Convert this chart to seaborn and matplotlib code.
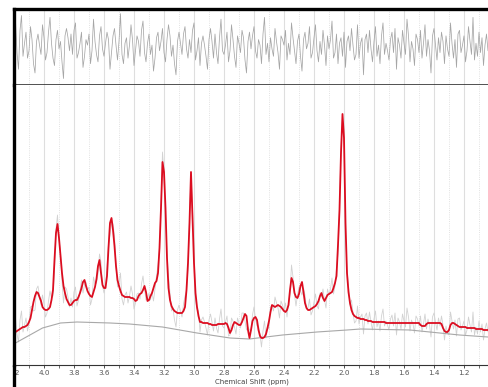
import numpy as np
import pandas as pd
import matplotlib
matplotlib.use("Agg")
import matplotlib.pyplot as plt
import seaborn as sns
from matplotlib.lines import Line2D
from matplotlib.transforms import Bbox, TransformedBbox

# chemical shift grid: 4.20 ppm down to 1.03 ppm, one point per 0.01 ppm
ppm = np.round(np.arange(4.20, 1.025, -0.01), 2)

# fitted spectrum (red)
fit_val = [
    35, 36, 37, 38, 39, 40, 41, 41, 42, 43,
    46, 50, 58, 66, 72, 76, 75, 71, 67, 61,
    59, 58, 58, 59, 61, 68, 78, 108, 135, 144,
    130, 112, 95, 82, 75, 69, 66, 63, 63, 65,
    67, 68, 68, 71, 75, 80, 86, 88, 82, 77,
    74, 72, 71, 76, 81, 89, 102, 108, 95, 83,
    80, 80, 92, 120, 145, 150, 138, 122, 102, 88,
    82, 77, 73, 72, 71, 71, 71, 71, 70, 70,
    69, 67, 68, 72, 74, 75, 78, 82, 76, 67,
    68, 72, 75, 80, 85, 87, 95, 120, 160, 206,
    196, 160, 110, 80, 68, 62, 59, 57, 56, 55,
    55, 55, 55, 57, 61, 78, 105, 145, 196, 150,
    105, 75, 61, 52, 46, 46, 45, 45, 45, 45,
    44, 44, 43, 43, 43, 43, 44, 44, 44, 44,
    44, 45, 44, 40, 35, 38, 43, 46, 45, 44,
    43, 43, 46, 50, 54, 52, 38, 30, 38, 47,
    50, 51, 48, 38, 32, 30, 30, 31, 34, 40,
    47, 56, 63, 62, 61, 62, 63, 62, 61, 59,
    57, 56, 58, 63, 78, 90, 86, 75, 71, 70,
    74, 82, 86, 76, 65, 60, 58, 58, 59, 60,
    61, 62, 64, 67, 72, 75, 70, 67, 70, 73,
    74, 75, 76, 80, 85, 92, 123, 158, 215, 254,
    230, 145, 95, 76, 65, 58, 54, 52, 51, 50,
    50, 49, 49, 49, 48, 48, 47, 47, 47, 46,
    46, 46, 46, 46, 46, 46, 46, 46, 45, 45,
    45, 45, 45, 45, 45, 45, 45, 45, 45, 45,
    45, 45, 45, 45, 45, 45, 45, 45, 45, 45,
    45, 43, 42, 42, 42, 44, 45, 45, 45, 45,
    45, 45, 45, 45, 45, 44, 40, 37, 36, 36,
    38, 43, 45, 45, 44, 43, 42, 41, 41, 41,
    41, 41, 40, 40, 40, 40, 40, 40, 39, 39,
    39, 39, 39, 38, 38, 38, 38, 38,
]

# residual (data - fit), estimated from the top panel
resid_val = [
    6, 14, -3, -12, 9, 17, -5, 2, 8, -6,
    -2, 11, 4, -9, -14, 3, 7, 1, -4, 12,
    5, -7, -3, 8, 16, 2, -6, -10, 4, 9,
    -1, 3, -8, -17, 6, 10, 5, -2, 7, -4,
    9, 13, -6, -3, 2, 8, -11, -5, 4, 1,
    7, -9, -2, 15, 3, -4, -8, 6, 11, -1,
    -5, 2, 8, 4, -12, -3, 6, 10, 1, -7,
    3, 18, -4, -9, 2, 5, -6, 1, 12, 4,
    -10, -2, 6, 3, -5, 9, 14, -3, -8, 2,
    7, -4, 1, -13, -6, 5, 8, -2, 3, 10,
    -3, -8, 4, 12, 6, -5, 1, -9, -15, 3,
    8, 2, -4, 7, 11, -1, -6, 4, -3, 9,
    13, -7, -2, 5, -10, 2, 6, 1, -5, -12,
    4, 10, 3, -6, 7, -3, -9, 5, 15, -2,
    -4, 1, 8, -8, -2, 12, 4, -5, -11, 6,
    2, -3, 9, 5, -7, -14, 3, 8, -1, 6,
    11, -2, -6, 4, 1, -9, 7, 16, -4, 2,
    -8, 5, -1, -5, 10, 3, -3, -12, 6, 4,
    1, 9, -7, 2, -4, 13, 5, -2, -9, 3,
    7, -5, -13, 4, 8, -1, 2, 11, -6, -3,
    5, 12, -2, -8, 3, -4, 9, 1, -10, 6,
    -1, 4, 14, -6, -3, 7, -9, 2, 5, -5,
    8, -11, 3, 6, -2, 10, 1, -7, -4, 12,
    -6, 2, 5, -15, 4, 7, -3, 9, -1, -8,
    3, 11, -5, 1, -9, 6, 13, -4, 2, -2,
    -7, 4, 8, -3, 10, -12, 5, 1, -6, 9,
    2, -4, 15, 6, -8, 3, -1, -10, 7, 4,
    -3, 9, -6, 2, 12, -5, 4, -2, -14, 6,
    10, 1, -7, 5, -3, 8, 3, -9, 6, -1,
    -5, 13, 2, -6, 4, -11, 7, 9, -3, 1,
    6, -8, -2, 11, 3, -4, 16, -7, 2, -5,
    8, -3, 5, -10, 1, 7, -2, 4,
]

# baseline (grey curve under the fit)
base_ppm = [4.19, 4.01, 3.89, 3.78, 3.56, 3.43, 3.21, 2.98, 2.76,
            2.63, 2.41, 2.18, 1.98, 1.89, 1.56, 1.23, 1.04]
base_val = [25, 40, 45, 46, 45, 44, 41, 35, 30, 29, 33, 36, 38, 39, 38, 33, 31]

major_ticks = [4.2, 4.0, 3.8, 3.6, 3.4, 3.2, 3.0, 2.8, 2.6, 2.4, 2.2, 2.0, 1.8, 1.6, 1.4, 1.2]
minor_ticks = [4.1, 3.9, 3.7, 3.5, 3.3, 3.1, 2.9, 2.7, 2.5, 2.3, 2.1, 1.9, 1.7, 1.5, 1.3, 1.1]

df = pd.DataFrame({"ppm": ppm, "fit": fit_val, "resid": resid_val})
df["data"] = df["fit"] + df["resid"]
base = pd.DataFrame({"ppm": base_ppm, "val": base_val})

sns.set_style("white")
W, H = 489, 387
AXB = 365  # pixel row of the main panel's x axis
fig = plt.figure(figsize=(W / 100, H / 100), dpi=100)
ax_res = fig.add_axes([14 / W, (H - 85) / H, 1 - 14 / W, 76 / H])
ax = fig.add_axes([14 / W, (H - AXB) / H, 1 - 14 / W, (AXB - 85) / H])

xlim = (4.2, 1.0333)

# residual panel
sns.lineplot(data=df, x="ppm", y="resid", ax=ax_res, color="#a6a6a6", lw=0.55, estimator=None)
ax_res.set_xlim(*xlim)
ax_res.set_ylim(-20.5, 20.5)

# main panel (same pixel scale as before: one unit per pixel, 0 at row 368)
sns.lineplot(data=df, x="ppm", y="data", ax=ax, color="#d2d2d2", lw=0.6, estimator=None)
sns.lineplot(data=base, x="ppm", y="val", ax=ax, color="#a8a8a8", lw=0.8, estimator=None)
sns.lineplot(data=df, x="ppm", y="fit", ax=ax, color="#dc0d20", lw=1.3, estimator=None)
ax.set_xlim(*xlim)
ax.set_ylim(368 - AXB, 283)

for a in (ax, ax_res):
    a.set_xticks(major_ticks)
    a.set_xticks(minor_ticks, minor=True)
    a.grid(which="major", axis="x", color="#dedede", lw=0.8, ls="-")
    a.grid(which="minor", axis="x", color="#d8d8d8", lw=0.6, ls=":")
    a.grid(which="major", axis="y", visible=False)
    a.set_yticks([])
    a.set_ylabel("")
    a.spines["right"].set_visible(False)
    a.spines["left"].set_linewidth(2.4)
    a.spines["left"].set_color("black")

ax_res.set_xlabel("")
ax_res.tick_params(axis="x", which="both", bottom=False, labelbottom=False)
ax_res.spines["top"].set_linewidth(2.4)
ax_res.spines["top"].set_color("black")
ax_res.spines["bottom"].set_linewidth(1.2)
ax_res.spines["bottom"].set_color("#333333")

ax.spines["top"].set_visible(False)
ax.spines["bottom"].set_linewidth(0.8)
ax.spines["bottom"].set_color("#333333")
ax.set_xticklabels([f"{t:.1f}" for t in major_ticks])
ax.tick_params(axis="x", which="major", length=2.5, width=0.6, color="#333333",
               labelsize=5.2, labelcolor="#555555", pad=1, bottom=True)
ax.tick_params(axis="x", which="minor", length=1.8, width=0.5, color="#333333", bottom=True)
ax.set_xlabel("Chemical Shift (ppm)", fontsize=5, color="#444444", va="top")
ax.xaxis.set_label_coords(0.5, -(378.5 - AXB) / (AXB - 85))

# the frame's left edge hides the left half of the first label
clip = TransformedBbox(Bbox([[15 / W, 0], [1, 1]]), fig.transFigure)
for lbl in ax.get_xticklabels():
    lbl.set_clip_box(clip)
    lbl.set_clip_on(True)

fig.add_artist(Line2D([14 / W, 14 / W], [0, (H - AXB) / H], color="black", lw=2.4,
                      transform=fig.transFigure))

fig.savefig("out.png", dpi=100)
